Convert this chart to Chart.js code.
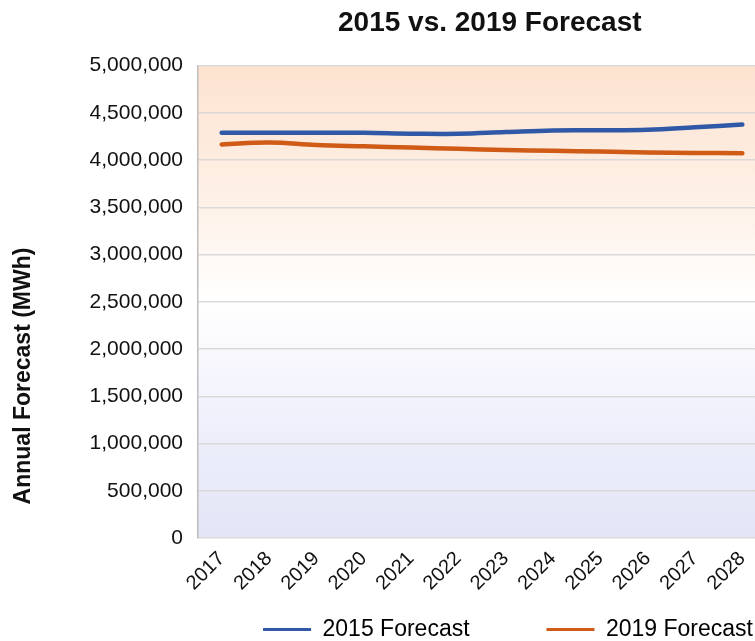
<!DOCTYPE html>
<html>
<head>
<meta charset="utf-8">
<script src="https://cdn.jsdelivr.net/npm/chart.js@4.4.1/dist/chart.umd.min.js"></script>
<style>
  html, body { margin: 0; padding: 0; background: #fff; overflow: hidden; }
  #wrap { width: 768px; height: 641px; }
</style>
</head>
<body>
<div id="wrap"><canvas id="myChart"></canvas></div>
<script>
const years = ['2017', '2018', '2019', '2020', '2021', '2022', '2023', '2024', '2025', '2026', '2027', '2028'];
const forecast2015 = [4289000, 4289000, 4288000, 4288000, 4280000, 4278000, 4297000, 4314000, 4316000, 4321000, 4348000, 4376000];
const forecast2019 = [4165000, 4186000, 4160000, 4146000, 4133000, 4120000, 4107000, 4098000, 4091000, 4080000, 4075000, 4073000];
const yTicks = [0, 500000, 1000000, 1500000, 2000000, 2500000, 3000000, 3500000, 4000000, 4500000, 5000000];

const FONT = "'Liberation Sans', Arial, sans-serif";

// peach at the top fading to white, then a soft lavender toward the base
const plotBackground = {
  id: 'plotBackground',
  beforeDraw(chart) {
    const { ctx, chartArea: a } = chart;
    const g = ctx.createLinearGradient(0, a.top, 0, a.bottom);
    g.addColorStop(0, '#fde3d0');
    g.addColorStop(0.3, '#fef1e8');
    g.addColorStop(0.5, '#ffffff');
    g.addColorStop(0.75, '#eff0fb');
    g.addColorStop(1, '#e2e5f6');
    ctx.save();
    ctx.fillStyle = g;
    ctx.fillRect(a.left, a.top, a.right - a.left, a.bottom - a.top);
    ctx.restore();
  }
};

// rotated y-axis caption, sits a bit lower than the axis middle
const yCaption = {
  id: 'yCaption',
  afterDraw(chart) {
    const ctx = chart.ctx;
    ctx.save();
    ctx.translate(24, 376);
    ctx.rotate(-Math.PI / 2);
    ctx.font = 'bold 23px ' + FONT;
    ctx.fillStyle = '#111';
    ctx.textAlign = 'center';
    ctx.textBaseline = 'middle';
    ctx.fillText('Annual Forecast (MWh)', 0, 0);
    ctx.restore();
  }
};

const ctx = document.getElementById('myChart').getContext('2d');
const myChart = new Chart(ctx, {
  type: 'line',
  data: {
    labels: years,
    datasets: [{
      label: '2015 Forecast',
      data: forecast2015,
      borderColor: '#2f58a6',
      backgroundColor: '#2f58a6',
      borderWidth: 4.5,
      borderCapStyle: 'round',
      pointRadius: 0,
      tension: 0.4
    }, {
      label: '2019 Forecast',
      data: forecast2019,
      borderColor: '#cf5b16',
      backgroundColor: '#cf5b16',
      borderWidth: 4.5,
      borderCapStyle: 'round',
      pointRadius: 0,
      tension: 0.4
    }]
  },
  options: {
    responsive: true,
    maintainAspectRatio: false,
    animation: false,
    layout: { padding: { top: 4, right: 2, bottom: -10, left: 0 } },
    plugins: {
      title: {
        display: true,
        text: '  2015 vs. 2019 Forecast',
        fullSize: false,
        color: '#111',
        font: { family: FONT, size: 28, weight: 'bold' },
        padding: { top: 2, bottom: 26 }
      },
      legend: {
        position: 'bottom',
        align: 'end',
        fullSize: false,
        labels: {
          color: '#111',
          font: { family: FONT, size: 23 },
          boxWidth: 48,
          boxHeight: 3,
          padding: 13,
          generateLabels(chart) {
            return chart.data.datasets.map((ds, i) => ({
              text: i === 0 ? ds.label + '          ' : ds.label,
              fillStyle: ds.borderColor,
              strokeStyle: ds.borderColor,
              lineWidth: 0,
              datasetIndex: i
            }));
          }
        }
      },
      tooltip: { enabled: false }
    },
    scales: {
      x: {
        offset: true,
        afterFit(scale) { scale.height = 67; },
        grid: { display: false },
        border: { display: false },
        ticks: {
          color: '#111',
          font: { family: FONT, size: 20 },
          minRotation: 45,
          maxRotation: 45,
          padding: 1
        }
      },
      y: {
        min: 0,
        max: 5000000,
        afterFit(scale) { scale.width = 198; },
        afterBuildTicks(scale) { scale.ticks = yTicks.map(v => ({ value: v })); },
        grid: { color: '#d9d9d9', lineWidth: 1.5, drawTicks: false },
        border: { display: true, color: '#bdbdbd', width: 1.5 },
        ticks: {
          color: '#111',
          font: { family: FONT, size: 21 },
          padding: 15,
          callback: v => v.toLocaleString('en-US')
        }
      }
    }
  },
  plugins: [plotBackground, yCaption]
});
</script>
</body>
</html>
